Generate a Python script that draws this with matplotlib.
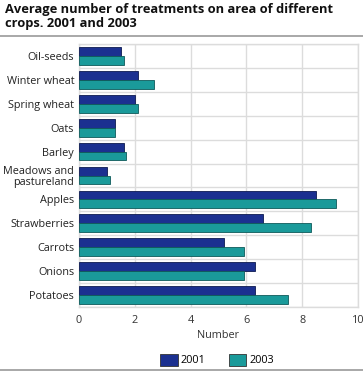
import matplotlib
matplotlib.use("Agg")
import matplotlib.pyplot as plt
import numpy as np

categories = ["Oil-seeds", "Winter wheat", "Spring wheat", "Oats", "Barley",
              "Meadows and\npastureland", "Apples", "Strawberries", "Carrots",
              "Onions", "Potatoes"]
v2001 = [1.5, 2.1, 2.0, 1.3, 1.6, 1.0, 8.5, 6.6, 5.2, 6.3, 6.3]
v2003 = [1.6, 2.7, 2.1, 1.3, 1.7, 1.1, 9.2, 8.3, 5.9, 5.9, 7.5]
xticks = [0, 2, 4, 6, 8, 10]

plt.rcParams['font.family'] = ['Open Sans', 'DejaVu Sans']

fig = plt.figure(figsize=(3.63, 3.72), dpi=100)
ax = fig.add_axes([79/363, 1-307/372, 279/363, 263/372])

y = np.arange(len(categories))
h = 0.37
c1 = "#1b3090"
c2 = "#1a9a9a"
ax.barh(y - h/2, v2001, height=h, color=c1, edgecolor="#0d1a50", linewidth=0.6, label="2001", zorder=3)
ax.barh(y + h/2, v2003, height=h, color=c2, edgecolor="#0e5a5a", linewidth=0.6, label="2003", zorder=3)

ax.set_ylim(len(categories) - 0.5, -0.5)
ax.set_xlim(0, 10)
ax.set_xticks(xticks)
ax.set_xticklabels([str(t) for t in xticks], fontsize=7.8, color="#333333")
ax.set_yticks(y)
ax.set_yticklabels(categories, fontsize=7.8, color="#222222", linespacing=0.95)
ax.set_yticks(np.arange(len(categories) + 1) - 0.5, minor=True)
ax.tick_params(axis='y', which='both', length=0, pad=3.5)
ax.tick_params(axis='x', which='both', length=0, pad=5.5)
ax.grid(axis='x', color="#dcdcdc", linewidth=1, zorder=0)
ax.grid(axis='y', which='minor', color="#dcdcdc", linewidth=1, zorder=0)
ax.grid(axis='y', which='major', visible=False)
for s in ax.spines.values():
    s.set_color("#dcdcdc")
    s.set_linewidth(1)

ax.set_xlabel("Number", fontsize=7.8, color="#333333", labelpad=3.5)

fig.text(5/363, 1-3/372, "Average number of treatments on area of different\ncrops. 2001 and 2003",
         fontsize=9.3, fontweight='bold', va='top', ha='left', linespacing=1.15, color="#111111")
fig.add_artist(plt.Line2D([0, 1], [1-36/372, 1-36/372], color="#999999", linewidth=1.2))
fig.add_artist(plt.Line2D([0, 1], [1-370/372, 1-370/372], color="#999999", linewidth=1.2))

leg = fig.legend(loc='center', bbox_to_anchor=(217/363, 1-360/372), ncol=2, frameon=False,
                 fontsize=7.8, handlelength=1.65, handleheight=1.4, columnspacing=2.1, handletextpad=0.3)
for p in leg.get_patches():
    p.set_edgecolor("#333333")

fig.savefig("out.png", dpi=100)
